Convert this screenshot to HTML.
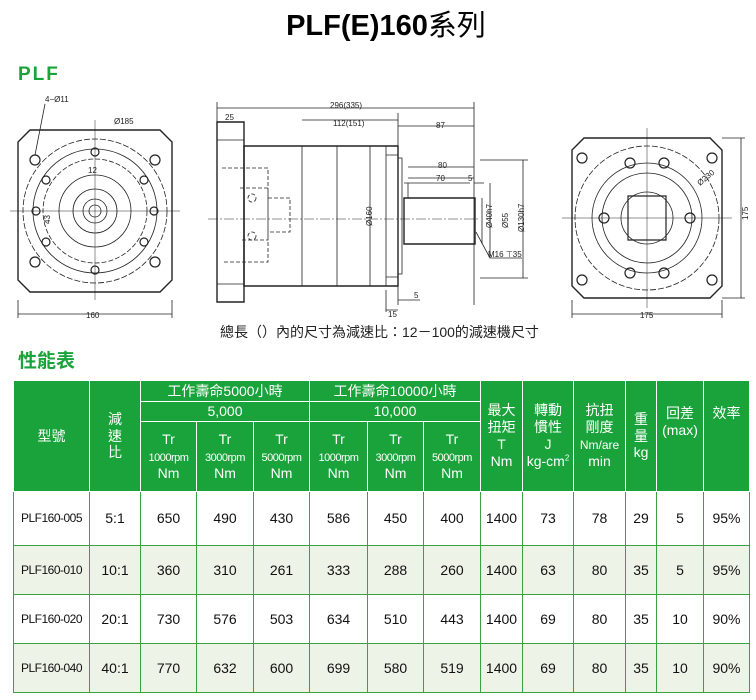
<!DOCTYPE html>
<html><head><meta charset="utf-8"><style>
body{margin:0;width:756px;height:700px;background:#fff;position:relative;overflow:hidden;font-family:"Liberation Sans","Noto Sans CJK TC",sans-serif}
.abs{position:absolute}
table{position:absolute;left:13px;top:380px;border-collapse:collapse;table-layout:fixed;width:736px}
td{border:1px solid #3aa23f;text-align:center;padding:0;font-size:14px;color:#111;line-height:1.2}
thead td{background:#1aa33a;color:#fff;border-color:#fff;font-size:14px}
.s{font-size:11px;letter-spacing:-0.5px}
tbody tr{height:49px}
tbody tr.g td{background:#eef3e8}
</style></head><body>
<div class="abs" style="left:0;width:756px;top:2px;text-align:center;font-size:29px;font-weight:bold;padding-left:8px">PLF(E)160<span style="font-weight:normal">系列</span></div>
<div class="abs" style="left:18px;top:64px;font-size:19px;font-weight:bold;color:#1aa33a;letter-spacing:2px">PLF</div>
<div class="abs" style="left:18px;top:346px;font-size:19px;font-weight:bold;color:#1aa33a">性能表</div>
<div class="abs" style="left:220px;top:322px;font-size:14px;color:#222">總長（）內的尺寸為減速比：12－100的減速機尺寸</div>
<svg class="abs" style="left:0;top:0" width="756" height="345" font-family="Liberation Sans" font-size="8" fill="none" stroke="#222" stroke-width="0.8">
<path d="M30 130H160L172 142V280L160 292H30L18 280V142Z" stroke-width="1.4"/>
<circle cx="95" cy="211" r="72" stroke-dasharray="6 2"/>
<circle cx="95" cy="211" r="62"/>
<circle cx="95" cy="211" r="52" stroke-dasharray="5 2"/>
<circle cx="95" cy="211" r="36"/><circle cx="95" cy="211" r="22"/><circle cx="95" cy="211" r="12"/><circle cx="95" cy="211" r="6"/>
<g stroke-width="1.2"><circle cx="35" cy="160" r="5"/><circle cx="155" cy="160" r="5"/><circle cx="35" cy="262" r="5"/><circle cx="155" cy="262" r="5"/>
<circle cx="95" cy="152" r="4"/><circle cx="95" cy="270" r="4"/><circle cx="46" cy="180" r="4"/><circle cx="144" cy="180" r="4"/><circle cx="46" cy="242" r="4"/><circle cx="144" cy="242" r="4"/><circle cx="36" cy="211" r="4"/><circle cx="154" cy="211" r="4"/></g>
<path d="M10 211H180M95 120V300" stroke-width="0.5"/>
<path d="M18 300V318M172 300V318M18 314H172"/>
<text x="86" y="318" fill="#222" stroke="none">160</text>
<text x="45" y="102" fill="#222" stroke="none">4−Ø11</text><path d="M45 104L35 155"/>
<text x="114" y="124" fill="#222" stroke="none">Ø185</text>
<text x="36" y="218" fill="#222" stroke="none" transform="rotate(-90 46 214)">43</text>
<text x="88" y="173" fill="#222" stroke="none">12</text>
<path d="M217 122H244V302H217Z" stroke-width="1.4"/>
<path d="M217 140H244M217 284H244"/>
<path d="M244 146H398V286H244Z" stroke-width="1.4"/>
<path d="M302 146V286M337 146V286"/>
<path d="M386 146V286M386 155H398M386 277H398"/>
<path d="M398 158H402V274H398M402 163V269"/>
<path d="M404 198H475V244H404Z" stroke-width="1.4"/>
<path d="M408 183V198M404 183H470"/>
<g stroke-dasharray="4 2"><path d="M222 168H268V262H222M240 188H268V240H240M268 198H290V232H268"/><circle cx="252" cy="198" r="4"/><circle cx="252" cy="236" r="4"/></g>
<path d="M208 219H480" stroke-dasharray="10 2 2 2" stroke-width="0.5"/>
<path d="M217 108H474M217 102V122M474 102V305M302 120H398M398 113V305M398 126H474M244 122H217M408 167H474M474 183H484M408 178H474"/>
<path d="M370 146V286M482 198V244M490 183V258M523 160V278M480 160H528M480 278H528"/>
<text x="330" y="108" fill="#222" stroke="none">296(335)</text>
<text x="225" y="120" fill="#222" stroke="none">25</text>
<text x="333" y="126" fill="#222" stroke="none">112(151)</text>
<text x="436" y="128" fill="#222" stroke="none">87</text>
<text x="438" y="168" fill="#222" stroke="none">80</text>
<text x="436" y="181" fill="#222" stroke="none">70</text>
<text x="468" y="181" fill="#222" stroke="none">5</text>
<text x="368" y="230" fill="#222" stroke="none" transform="rotate(-90 368 226)">Ø160</text>
<text x="488" y="232" fill="#222" stroke="none" transform="rotate(-90 488 228)">Ø40h7</text>
<text x="504" y="232" fill="#222" stroke="none" transform="rotate(-90 504 228)">Ø55</text>
<text x="520" y="236" fill="#222" stroke="none" transform="rotate(-90 520 232)">Ø130h7</text>
<path d="M476 232L490 258H522"/><text x="488" y="257" fill="#222" stroke="none">M16 ⊤35</text>
<path d="M386 290V312M398 300H420M386 310H398"/>
<text x="414" y="298" fill="#222" stroke="none">5</text><text x="388" y="317" fill="#222" stroke="none">15</text>
<path d="M584 138H710L722 150V286L710 298H584L572 286V150Z" stroke-width="1.4"/>
<circle cx="647" cy="218" r="72" stroke-dasharray="6 2"/>
<circle cx="647" cy="218" r="55"/><circle cx="647" cy="218" r="45"/><circle cx="647" cy="218" r="26"/>
<path d="M628 196H666V240H628Z" stroke-width="1.2"/>
<g stroke-width="1.2"><circle cx="582" cy="158" r="5"/><circle cx="712" cy="158" r="5"/><circle cx="582" cy="280" r="5"/><circle cx="712" cy="280" r="5"/>
<circle cx="630" cy="163" r="5"/><circle cx="664" cy="163" r="5"/><circle cx="630" cy="273" r="5"/><circle cx="664" cy="273" r="5"/><circle cx="604" cy="218" r="5"/><circle cx="690" cy="218" r="5"/></g>
<path d="M562 218H732M647 128V308" stroke-width="0.5"/>
<path d="M572 300V318M722 300V318M572 314H722M722 138H745M722 298H745M741 138V298"/>
<text x="640" y="318" fill="#222" stroke="none">175</text>
<text x="700" y="186" fill="#222" stroke="none" transform="rotate(-40 700 186)">Ø230</text>
<text x="744" y="224" fill="#222" stroke="none" transform="rotate(-90 744 220)">175</text>
</svg>
<table>
<colgroup><col style="width:76px"><col style="width:51px"><col style="width:56px"><col style="width:57px"><col style="width:56px"><col style="width:58px"><col style="width:56px"><col style="width:57px"><col style="width:42px"><col style="width:51px"><col style="width:52px"><col style="width:31px"><col style="width:47px"><col style="width:46px"></colgroup>
<thead>
<tr style="height:21px"><td rowspan="3">型號</td><td rowspan="3">減<br>速<br>比</td><td colspan="3">工作壽命5000小時</td><td colspan="3">工作壽命10000小時</td><td rowspan="3">最大<br>扭矩<br>T<br>Nm</td><td rowspan="3">轉動<br>慣性<br>J<br>kg-cm<sup style="font-size:8px">2</sup></td><td rowspan="3">抗扭<br>剛度<br><span style="font-size:12px">Nm/are</span><br>min</td><td rowspan="3">重<br>量<br>kg</td><td rowspan="3" style="vertical-align:top;padding-top:24px">回差<br>(max)</td><td rowspan="3" style="vertical-align:top;padding-top:24px">效率</td></tr>
<tr style="height:20px"><td colspan="3">5,000</td><td colspan="3">10,000</td></tr>
<tr style="height:70px"><td>Tr<br><span class="s">1000rpm</span><br>Nm</td><td>Tr<br><span class="s">3000rpm</span><br>Nm</td><td>Tr<br><span class="s">5000rpm</span><br>Nm</td><td>Tr<br><span class="s">1000rpm</span><br>Nm</td><td>Tr<br><span class="s">3000rpm</span><br>Nm</td><td>Tr<br><span class="s">5000rpm</span><br>Nm</td></tr>
</thead>
<tbody>
<tr style="height:54px"><td class="s" style="font-size:12px">PLF160-005</td><td>5:1</td><td>650</td><td>490</td><td>430</td><td>586</td><td>450</td><td>400</td><td>1400</td><td>73</td><td>78</td><td>29</td><td>5</td><td>95%</td></tr>
<tr class="g"><td class="s" style="font-size:12px">PLF160-010</td><td>10:1</td><td>360</td><td>310</td><td>261</td><td>333</td><td>288</td><td>260</td><td>1400</td><td>63</td><td>80</td><td>35</td><td>5</td><td>95%</td></tr>
<tr><td class="s" style="font-size:12px">PLF160-020</td><td>20:1</td><td>730</td><td>576</td><td>503</td><td>634</td><td>510</td><td>443</td><td>1400</td><td>69</td><td>80</td><td>35</td><td>10</td><td>90%</td></tr>
<tr class="g"><td class="s" style="font-size:12px">PLF160-040</td><td>40:1</td><td>770</td><td>632</td><td>600</td><td>699</td><td>580</td><td>519</td><td>1400</td><td>69</td><td>80</td><td>35</td><td>10</td><td>90%</td></tr>
</tbody>
</table>
</body></html>
